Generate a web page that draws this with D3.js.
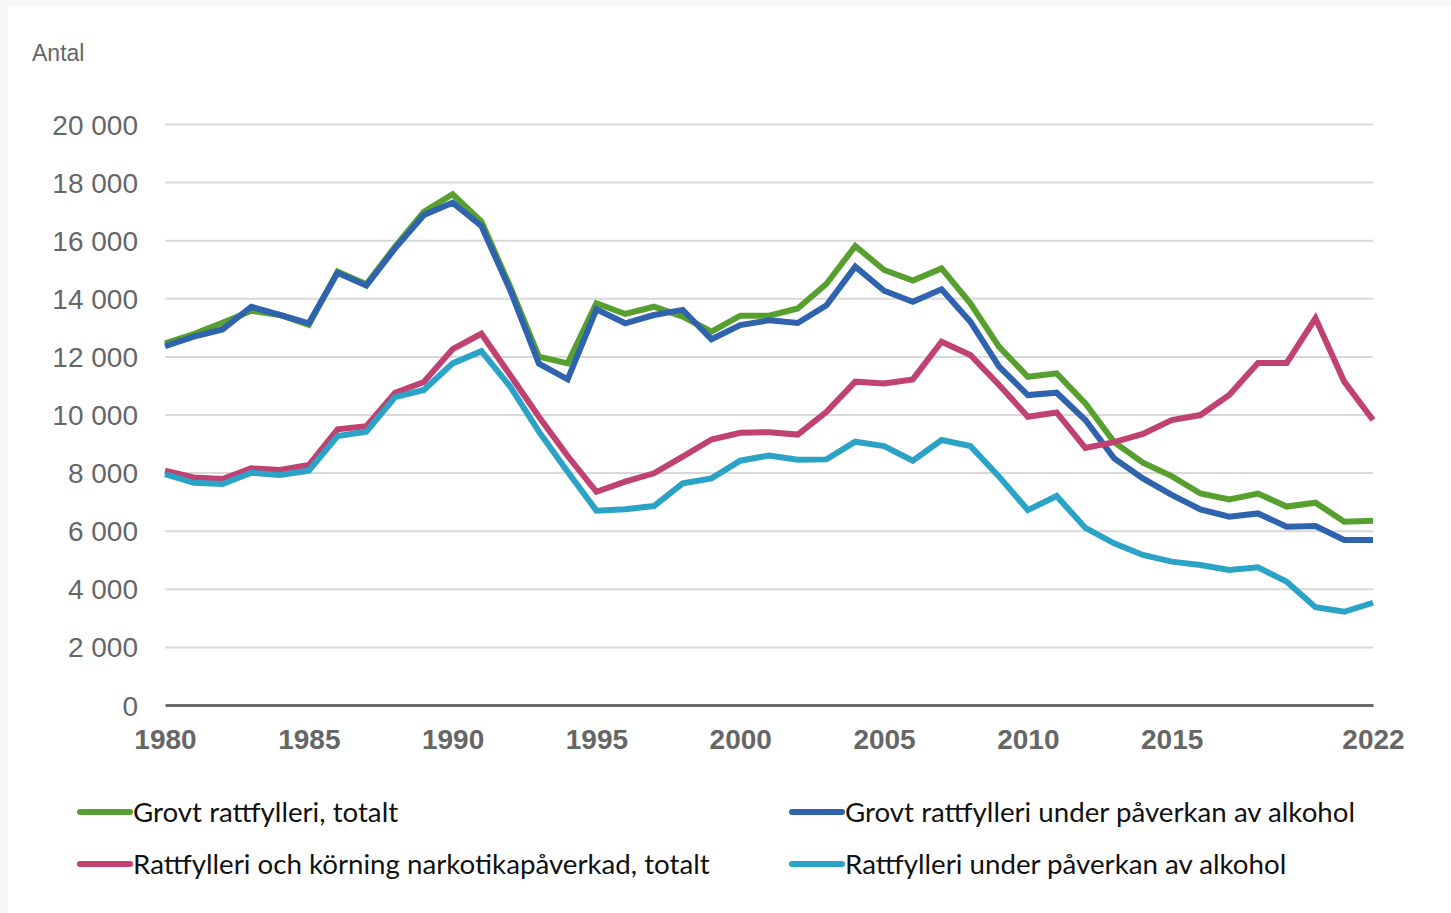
<!DOCTYPE html>
<html>
<head>
<meta charset="utf-8">
<script src="https://cdn.jsdelivr.net/npm/d3@7"></script>
<style>
  html, body { margin: 0; padding: 0; background: #ffffff; }
  svg { display: block; }
</style>
</head>
<body>
<svg id="chart" width="1451" height="913"></svg>
<script>
const years = d3.range(1980, 2023);

const seriesNames = [
  "Grovt rattfylleri, totalt",
  "Grovt rattfylleri under påverkan av alkohol",
  "Rattfylleri och körning narkotikapåverkad, totalt",
  "Rattfylleri under påverkan av alkohol"
];

const grovtTotalt = [12450, 12770, 13160, 13570, 13425, 13090, 14920, 14480, 15780, 16980,
  17580, 16640, 14400, 11990, 11760, 13830, 13460, 13710, 13370, 12850,
  13400, 13400, 13650, 14500, 15800, 14975, 14610, 15030, 13830, 12330,
  11300, 11415, 10385, 9050, 8340, 7880, 7280, 7075, 7280, 6830,
  6965, 6310, 6340];

const grovtAlkohol = [12350, 12680, 12930, 13710, 13425, 13140, 14880, 14435, 15720, 16870,
  17290, 16490, 14285, 11750, 11210, 13620, 13140, 13425, 13600, 12590,
  13080, 13240, 13150, 13760, 15090, 14260, 13880, 14310, 13195, 11645,
  10670, 10750, 9810, 8490, 7800, 7230, 6735, 6480, 6595, 6140,
  6160, 5680, 5680];

const narkotikaTotalt = [8065, 7835, 7780, 8145, 8090, 8260, 9490, 9600, 10750, 11120,
  12250, 12780, 11360, 9920, 8570, 7340, 7690, 7975, 8550, 9140,
  9370, 9390, 9310, 10090, 11130, 11070, 11210, 12505, 12050, 11015,
  9925, 10070, 8850, 9050, 9330, 9810, 9980, 10670, 11775, 11775,
  13310, 11130, 9810];

const rattAlkohol = [7950, 7650, 7610, 7995, 7920, 8065, 9260, 9410, 10600, 10845,
  11760, 12180, 10960, 9410, 8030, 6690, 6735, 6850, 7630, 7800,
  8410, 8590, 8445, 8455, 9065, 8915, 8410, 9120, 8915, 7860,
  6710, 7195, 6095, 5565, 5165, 4935, 4820, 4650, 4740, 4245,
  3365, 3210, 3520];

const yTicks = [0, 2000, 4000, 6000, 8000, 10000, 12000, 14000, 16000, 18000, 20000];
const xTicks = [1980, 1985, 1990, 1995, 2000, 2005, 2010, 2015, 2022];
const colors = ["#57a02f", "#2f63ae", "#c04273", "#2ba3c7"];
const seriesData = [grovtTotalt, grovtAlkohol, narkotikaTotalt, rattAlkohol];

const svg = d3.select("#chart");

// faint frame like the reference
svg.append("rect").attr("x", 0).attr("y", 0).attr("width", 1451).attr("height", 913).attr("fill", "#f7f7f7");
svg.append("rect").attr("x", 8).attr("y", 6).attr("width", 1443).attr("height", 907).attr("fill", "#ffffff");

const x = d3.scaleLinear().domain([1980, 2022]).range([165, 1373]);
const y = d3.scaleLinear().domain([0, 20000]).range([705, 124]);

const fmt = v => d3.format(",")(v).replace(/,/g, " ");

// gridlines + y labels
const yAxis = d3.axisLeft(y).tickValues(yTicks).tickSize(-(1373 - 165)).tickFormat(fmt).tickPadding(27);
const gy = svg.append("g").attr("transform", "translate(165,0)").call(yAxis);
gy.select(".domain").remove();
gy.selectAll(".tick line").attr("stroke", "#d9d9d9").attr("stroke-width", 2)
  .filter(d => d === 0).remove();
gy.selectAll(".tick text")
  .attr("font-family", "Liberation Sans, Arial, sans-serif")
  .attr("font-size", 28).attr("fill", "#666666").attr("dy", "0.36em");

// x axis
const xAxis = d3.axisBottom(x).tickValues(xTicks).tickSize(0).tickFormat(d3.format("d")).tickPadding(24);
const gx = svg.append("g").attr("transform", "translate(0,705)").call(xAxis);
gx.select(".domain").attr("stroke", "#6b6b6b").attr("stroke-width", 3);
gx.selectAll(".tick text")
  .attr("font-family", "Liberation Sans, Arial, sans-serif")
  .attr("font-weight", "bold")
  .attr("font-size", 28).attr("fill", "#666666");

// Antal label
svg.append("text").attr("x", 32).attr("y", 61)
  .attr("font-family", "Liberation Sans, Arial, sans-serif")
  .attr("font-size", 23).attr("fill", "#666666").text("Antal");

// lines
const line = d3.line().x((d, i) => x(years[i])).y(d => y(d));
seriesData.forEach((s, i) => {
  svg.append("path").datum(s)
    .attr("d", line)
    .attr("fill", "none")
    .attr("stroke", colors[i])
    .attr("stroke-width", 6)
    .attr("stroke-linejoin", "miter")
    .attr("stroke-linecap", "butt");
});

// legend
const legendPos = [[80, 812], [792, 812], [80, 864], [792, 864]];
seriesNames.forEach((name, i) => {
  const [lx, ly] = legendPos[i];
  svg.append("line").attr("x1", lx).attr("x2", lx + 50).attr("y1", ly).attr("y2", ly)
    .attr("stroke", colors[i]).attr("stroke-width", 6).attr("stroke-linecap", "round");
  svg.append("text").attr("x", lx + 53).attr("y", ly + 10)
    .attr("font-family", "Lato, Carlito, sans-serif")
    .attr("font-size", 27.7).attr("fill", "#111111").text(name);
});
</script>
</body>
</html>
